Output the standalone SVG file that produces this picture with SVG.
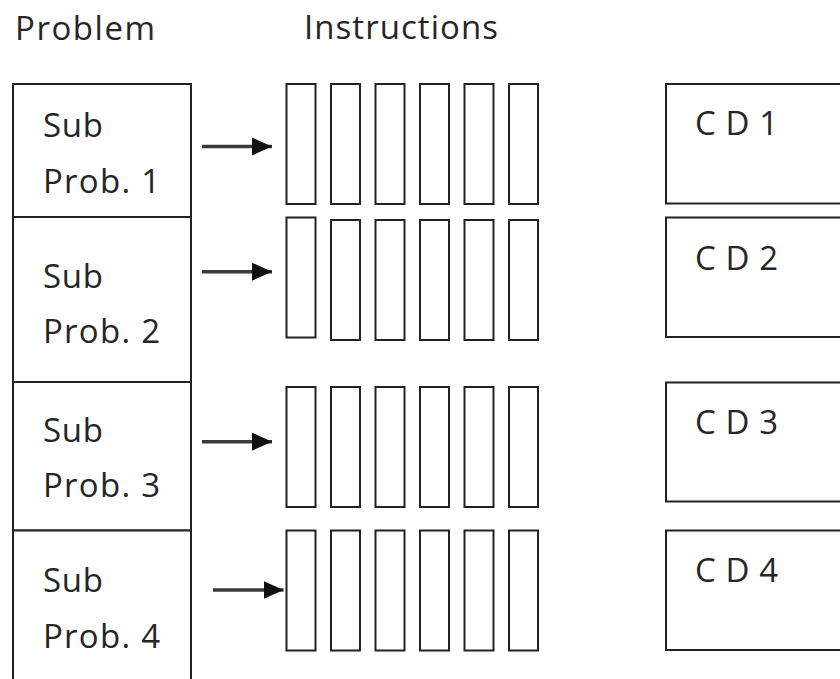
<svg xmlns="http://www.w3.org/2000/svg" width="840" height="679" viewBox="0 0 840 679">
  <defs>
    <style>
      .box { fill: #ffffff; stroke: #222222; stroke-width: 2; }
      .bar { fill: #ffffff; stroke: #222222; stroke-width: 2; }
      .lbl { font-family: "Open Sans", "Liberation Sans", sans-serif; font-size: 33px; fill: #262626; }
      .conn { stroke: #3a3a3a; stroke-width: 3.5; fill: none; }
    </style>
    <marker id="ah" markerUnits="userSpaceOnUse" markerWidth="21" markerHeight="20" refX="20" refY="10" orient="auto">
      <path d="M0,1 L20,10 L0,19 z" fill="#111111"/>
    </marker>
    <g id="bars">
      <rect class="bar" x="0" y="0" width="29" height="120"/>
      <rect class="bar" x="44.5" y="0" width="29" height="120"/>
      <rect class="bar" x="89" y="0" width="29" height="120"/>
      <rect class="bar" x="133.5" y="0" width="29" height="120"/>
      <rect class="bar" x="178" y="0" width="29" height="120"/>
      <rect class="bar" x="222.5" y="0" width="29" height="120"/>
    </g>
  </defs>
  <rect width="840" height="679" fill="#ffffff"/>

  <g id="titles">
    <text class="lbl" x="15" y="40" textLength="140" lengthAdjust="spacing">Problem</text>
    <text class="lbl" x="304" y="39" textLength="194" lengthAdjust="spacing">Instructions</text>
  </g>

  <g id="sub1">
    <rect class="box" x="13" y="84" width="178" height="133"/>
    <text class="lbl" x="43" y="137" textLength="60" lengthAdjust="spacing">Sub</text>
    <text class="lbl" x="43" y="193" textLength="117" lengthAdjust="spacing">Prob. 1</text>
  </g>
  <g id="sub2">
    <rect class="box" x="13" y="217" width="178" height="165"/>
    <text class="lbl" x="43" y="288" textLength="60" lengthAdjust="spacing">Sub</text>
    <text class="lbl" x="43" y="343" textLength="117" lengthAdjust="spacing">Prob. 2</text>
  </g>
  <g id="sub3">
    <rect class="box" x="13" y="382" width="178" height="148.5"/>
    <text class="lbl" x="43" y="441.5" textLength="60" lengthAdjust="spacing">Sub</text>
    <text class="lbl" x="43" y="496.5" textLength="117" lengthAdjust="spacing">Prob. 3</text>
  </g>
  <g id="sub4">
    <rect class="box" x="13" y="530.5" width="178" height="160"/>
    <text class="lbl" x="43" y="591.5" textLength="60" lengthAdjust="spacing">Sub</text>
    <text class="lbl" x="43" y="648" textLength="117" lengthAdjust="spacing">Prob. 4</text>
  </g>

  <g id="instr1">
    <use href="#bars" x="286.5" y="84"/>
  </g>
  <g id="instr2">
    <rect class="bar" x="286.5" y="217.5" width="29" height="120"/>
    <rect class="bar" x="331" y="220" width="29" height="120"/>
    <rect class="bar" x="375.5" y="220" width="29" height="120"/>
    <rect class="bar" x="420" y="220" width="29" height="120"/>
    <rect class="bar" x="464.5" y="220" width="29" height="120"/>
    <rect class="bar" x="509" y="220" width="29" height="120"/>
  </g>
  <g id="instr3">
    <use href="#bars" x="286.5" y="387"/>
  </g>
  <g id="instr4">
    <use href="#bars" x="286.5" y="530.5"/>
  </g>

  <g id="cd1">
    <rect class="box" x="666" y="84" width="190" height="119.5"/>
    <text class="lbl" x="695" y="135" textLength="83" lengthAdjust="spacing">C D 1</text>
  </g>
  <g id="cd2">
    <rect class="box" x="666" y="217.5" width="190" height="119.5"/>
    <text class="lbl" x="695" y="270" textLength="83" lengthAdjust="spacing">C D 2</text>
  </g>
  <g id="cd3">
    <rect class="box" x="666" y="382.5" width="190" height="119"/>
    <text class="lbl" x="695" y="433.5" textLength="83" lengthAdjust="spacing">C D 3</text>
  </g>
  <g id="cd4">
    <rect class="box" x="666" y="530.5" width="190" height="119.5"/>
    <text class="lbl" x="695" y="581.5" textLength="83" lengthAdjust="spacing">C D 4</text>
  </g>

  <g id="connectors">
    <line class="conn" x1="202" y1="146.5" x2="272" y2="146.5" marker-end="url(#ah)"/>
    <line class="conn" x1="202" y1="271.7" x2="272" y2="271.7" marker-end="url(#ah)"/>
    <line class="conn" x1="202" y1="441.7" x2="272" y2="441.7" marker-end="url(#ah)"/>
    <line class="conn" x1="213" y1="590" x2="283.5" y2="590" marker-end="url(#ah)"/>
  </g>
</svg>
